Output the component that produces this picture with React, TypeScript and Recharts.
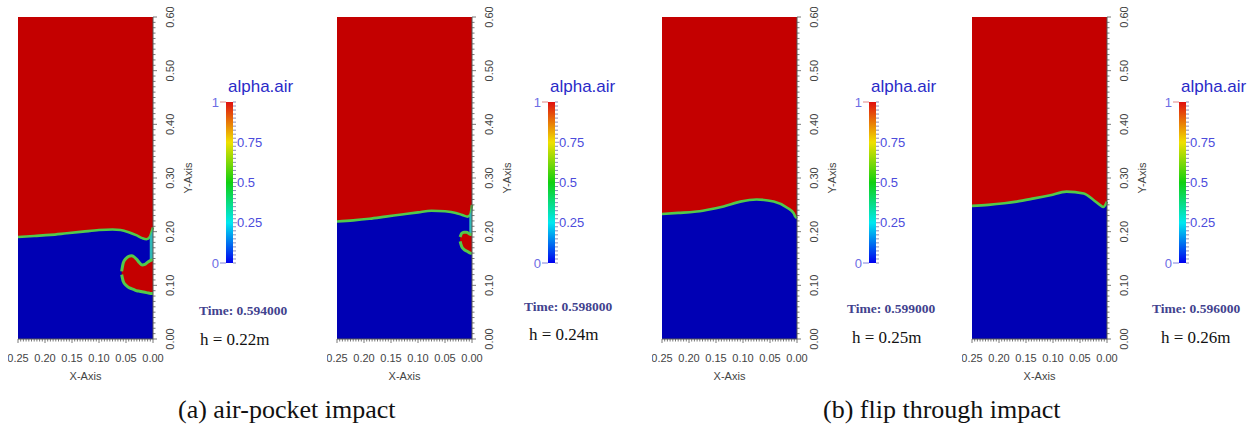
import React from 'react';
import { Area, Bar, BarChart, CartesianGrid, ComposedChart, XAxis, YAxis } from 'recharts';

// alpha.air snapshots: free surface height (m) against distance from the wall (m)
const surface1 = [
  { x: 0.25, y: 0.19 }, { x: 0.22, y: 0.192 }, { x: 0.19, y: 0.194 }, { x: 0.16, y: 0.197 },
  { x: 0.13, y: 0.2 }, { x: 0.1, y: 0.203 }, { x: 0.075, y: 0.204 }, { x: 0.06, y: 0.203 },
  { x: 0.045, y: 0.199 }, { x: 0.03, y: 0.193 }, { x: 0.02, y: 0.188 }, { x: 0.012, y: 0.186 },
  { x: 0.006, y: 0.19 }, { x: 0.003, y: 0.198 }, { x: 0, y: 0.208 },
];
const pocket1 = [
  { x: 0.058, range: [0.12, 0.126] }, { x: 0.055, range: [0.107, 0.142] },
  { x: 0.05, range: [0.1, 0.15] }, { x: 0.045, range: [0.096, 0.154] },
  { x: 0.04, range: [0.094, 0.155] }, { x: 0.035, range: [0.092, 0.153] },
  { x: 0.03, range: [0.09, 0.148] }, { x: 0.025, range: [0.089, 0.142] },
  { x: 0.02, range: [0.088, 0.138] }, { x: 0.015, range: [0.087, 0.139] },
  { x: 0.01, range: [0.086, 0.143] }, { x: 0.005, range: [0.085, 0.146] },
  { x: 0, range: [0.085, 0.148] },
];
const channel1 = [{ x: 0.006, range: [0.146, 0.19] }, { x: 0, range: [0.146, 0.205] }];

const surface2 = [
  { x: 0.25, y: 0.219 }, { x: 0.22, y: 0.221 }, { x: 0.19, y: 0.224 }, { x: 0.16, y: 0.228 },
  { x: 0.13, y: 0.232 }, { x: 0.1, y: 0.236 }, { x: 0.075, y: 0.239 }, { x: 0.05, y: 0.238 },
  { x: 0.03, y: 0.235 }, { x: 0.018, y: 0.231 }, { x: 0.008, y: 0.228 }, { x: 0.003, y: 0.232 },
  { x: 0, y: 0.25 },
];
const pocket2 = [
  { x: 0.022, range: [0.182, 0.19] }, { x: 0.019, range: [0.172, 0.197] },
  { x: 0.015, range: [0.167, 0.199] }, { x: 0.01, range: [0.164, 0.199] },
  { x: 0.005, range: [0.161, 0.196] }, { x: 0, range: [0.159, 0.194] },
];
const channel2 = [{ x: 0.005, range: [0.194, 0.228] }, { x: 0, range: [0.194, 0.245] }];

const surface3 = [
  { x: 0.25, y: 0.233 }, { x: 0.22, y: 0.235 }, { x: 0.19, y: 0.237 }, { x: 0.1675, y: 0.2405 },
  { x: 0.136, y: 0.247 }, { x: 0.105, y: 0.256 }, { x: 0.075, y: 0.26 }, { x: 0.043, y: 0.256 },
  { x: 0.019, y: 0.245 }, { x: 0.006, y: 0.234 }, { x: 0.003, y: 0.228 }, { x: 0, y: 0.225 },
];

const surface4 = [
  { x: 0.25, y: 0.248 }, { x: 0.22, y: 0.25 }, { x: 0.19, y: 0.253 }, { x: 0.1675, y: 0.256 },
  { x: 0.135, y: 0.262 }, { x: 0.105, y: 0.268 }, { x: 0.075, y: 0.2746 }, { x: 0.043, y: 0.271 },
  { x: 0.025, y: 0.259 }, { x: 0.012, y: 0.249 }, { x: 0.007, y: 0.246 }, { x: 0.003, y: 0.25 },
  { x: 0, y: 0.256 },
];

const times = ['Time: 0.594000', 'Time: 0.598000', 'Time: 0.599000', 'Time: 0.596000'];
const depths = ['h = 0.22m', 'h = 0.24m', 'h = 0.25m', 'h = 0.26m'];
const captions = ['(a) air-pocket impact', '(b) flip through impact'];
const colorbarRange = [{ field: 'alpha.air', value: 1 }];
const colorbarLabels = [0.25, 0.5, 0.75];
const colorbarEnds = [0, 1];

const panels = [
  { surface: surface1, pocket: pocket1, channel: channel1 },
  { surface: surface2, pocket: pocket2, channel: channel2 },
  { surface: surface3, pocket: null, channel: null },
  { surface: surface4, pocket: null, channel: null },
];

// page placement of each snapshot
const layout = [
  { plotLeft: 18, barLeft: 226, timeLeft: 199, timeY: 311, depthLeft: 200, depthY: 340 },
  { plotLeft: 337, barLeft: 548, timeLeft: 524, timeY: 307, depthLeft: 529, depthY: 335 },
  { plotLeft: 662, barLeft: 869, timeLeft: 847, timeY: 309, depthLeft: 852, depthY: 338 },
  { plotLeft: 972, barLeft: 1179, timeLeft: 1152, timeY: 309, depthLeft: 1161, depthY: 338 },
];
const captionLeft = [178, 823];

const RED = '#c40000';
const BLUE = '#0000b4';
const RIM = '#52c94a';
const AXIS = '#555';
const SANS = '"Liberation Sans", Arial, sans-serif';
const SERIF = '"Liberation Serif", "Times New Roman", serif';
const BAR_W = 7;

const isStep = (v: number, step: number) => Math.abs(v / step - Math.round(v / step)) < 1e-6;

const YTick = ({ x, y, payload }: any) => {
  const v = payload.value;
  const major = isStep(v, 0.1);
  return (
    <g>
      <line x1={x} x2={x + (major ? 4 : 2.5)} y1={y} y2={y} stroke={AXIS} strokeWidth={0.8} />
      {major && (
        <text x={x + 17} y={y} transform={`rotate(-90 ${x + 17} ${y})`} textAnchor="middle"
          dominantBaseline="central" fontSize={11} fontFamily={SANS} fill="#444">
          {v.toFixed(2)}
        </text>
      )}
    </g>
  );
};

const XTick = ({ x, y, payload }: any) => {
  const v = payload.value;
  const major = isStep(v, 0.05);
  return (
    <g>
      <line x1={x} x2={x} y1={y} y2={y + (major ? 4 : 2.5)} stroke={AXIS} strokeWidth={0.8} />
      {major && (
        <text x={x} y={y + 19} textAnchor="middle" dominantBaseline="central" fontSize={11}
          fontFamily={SANS} fill="#444">
          {v.toFixed(2)}
        </text>
      )}
    </g>
  );
};

// right-hand ruler of the colour bar; the end values sit on the left of the bar
const BarTick = ({ x, y, payload }: any) => {
  const v = payload.value;
  const labelled = colorbarLabels.some((l) => Math.abs(l - v) < 1e-6);
  const end = colorbarEnds.some((l) => Math.abs(l - v) < 1e-6);
  const lx = x - BAR_W;
  return (
    <g>
      <line x1={x} x2={x + (labelled ? 4 : 3)} y1={y} y2={y} stroke="#7070a8" strokeWidth={0.8} />
      {labelled && (
        <text x={x + 4} y={y} dominantBaseline="central" fontSize={13} fontFamily={SANS} fill="#4c4cdc">
          {String(v)}
        </text>
      )}
      {end && (
        <g>
          <line x1={lx - 6} x2={lx} y1={y} y2={y} stroke={v === 1 ? '#e08a8a' : '#8080e0'} strokeWidth={1} />
          <text x={lx - 7} y={y} textAnchor="end" dominantBaseline="central" fontSize={13}
            fontFamily={SANS} fill="#6c6ce4">
            {String(v)}
          </text>
        </g>
      )}
    </g>
  );
};

function Snapshot({ idx }: { idx: number }) {
  const p = panels[idx];
  const l = layout[idx];
  return (
    <div style={{ position: 'absolute', left: l.plotLeft - 10, top: 7 }}>
      <ComposedChart width={205} height={382} margin={{ top: 10, right: 5, bottom: 5, left: 10 }}>
        <CartesianGrid fill={RED} horizontal={false} vertical={false} stroke="none" />
        <XAxis type="number" dataKey="x" domain={[0, 0.25]} reversed tickCount={51} interval={0}
          height={45} tickSize={0} tickMargin={0} tickLine={false} tick={<XTick />}
          axisLine={{ stroke: AXIS }}
          label={{ value: 'X-Axis', position: 'insideBottom', offset: 4, fontSize: 11, fontFamily: SANS, fill: '#444' }} />
        <YAxis type="number" orientation="right" domain={[0, 0.6]} tickCount={61} interval={0}
          width={55} tickSize={0} tickMargin={0} tickLine={false} tick={<YTick />}
          axisLine={{ stroke: AXIS }}
          label={{
            content: ({ viewBox }: any) => {
              const cx = viewBox.x + 35;
              const cy = viewBox.y + viewBox.height / 2;
              return (
                <text x={cx} y={cy} transform={`rotate(-90 ${cx} ${cy})`} textAnchor="middle"
                  dominantBaseline="central" fontSize={11} fontFamily={SANS} fill="#444">
                  Y-Axis
                </text>
              );
            },
          }} />
        <Area data={p.surface} dataKey="y" type="monotone" fill={BLUE} fillOpacity={1}
          stroke={RIM} strokeWidth={2.6} isAnimationActive={false} />
        {p.channel && (
          <Area data={p.channel} dataKey="range" type="linear" fill="#2fb8b8" fillOpacity={1}
            stroke="none" isAnimationActive={false} />
        )}
        {p.pocket && (
          <Area data={p.pocket} dataKey="range" type="monotone" fill={RED} fillOpacity={1}
            stroke={RIM} strokeWidth={3} isAnimationActive={false} />
        )}
      </ComposedChart>
    </div>
  );
}

function Colorbar({ idx }: { idx: number }) {
  const l = layout[idx];
  const gid = `alphaGrad${idx}`;
  return (
    <div style={{ position: 'absolute', left: l.barLeft - 20, top: 94 }}>
      <BarChart width={20 + BAR_W + 49} height={177} data={colorbarRange} barCategoryGap={0}
        margin={{ top: 8, right: 0, bottom: 8, left: 20 }}>
        <defs>
          <linearGradient id={gid} x1="0" y1="0" x2="0" y2="1">
            <stop offset="0%" stopColor="#e01010" />
            <stop offset="25%" stopColor="#f0e000" />
            <stop offset="50%" stopColor="#10d010" />
            <stop offset="75%" stopColor="#00e8f0" />
            <stop offset="100%" stopColor="#0000f0" />
          </linearGradient>
        </defs>
        <XAxis dataKey="field" type="category" hide />
        <YAxis orientation="right" domain={[0, 1]} tickCount={41} interval={0} width={49}
          tickSize={0} tickMargin={0} tickLine={false} axisLine={false} tick={<BarTick />} />
        <Bar dataKey="value" fill={`url(#${gid})`} isAnimationActive={false} />
      </BarChart>
    </div>
  );
}

export default function App() {
  return (
    <div style={{ position: 'absolute', left: 0, top: 0, width: 1257, height: 428, background: '#fff', overflow: 'hidden' }}>
      {layout.map((l, i) => (
        <React.Fragment key={i}>
          <Snapshot idx={i} />
          <Colorbar idx={i} />
          <div style={{ position: 'absolute', left: l.barLeft + 2, top: 77, fontFamily: SANS, fontSize: 17, lineHeight: '20px', color: '#2a2ac8', whiteSpace: 'nowrap' }}>
            alpha.air
          </div>
          <div style={{ position: 'absolute', left: l.timeLeft, top: l.timeY - 8, fontFamily: SERIF, fontWeight: 'bold', fontSize: 13.5, lineHeight: '16px', color: '#42428e', whiteSpace: 'nowrap' }}>
            {times[i]}
          </div>
          <div style={{ position: 'absolute', left: l.depthLeft, top: l.depthY - 10, fontFamily: SERIF, fontSize: 17, lineHeight: '20px', color: '#111', whiteSpace: 'nowrap' }}>
            {depths[i]}
          </div>
        </React.Fragment>
      ))}
      {captions.map((c, i) => (
        <div key={c} style={{ position: 'absolute', left: captionLeft[i], top: 395, fontFamily: SERIF, fontSize: 26, lineHeight: '30px', color: '#111', whiteSpace: 'nowrap' }}>
          {c}
        </div>
      ))}
    </div>
  );
}
